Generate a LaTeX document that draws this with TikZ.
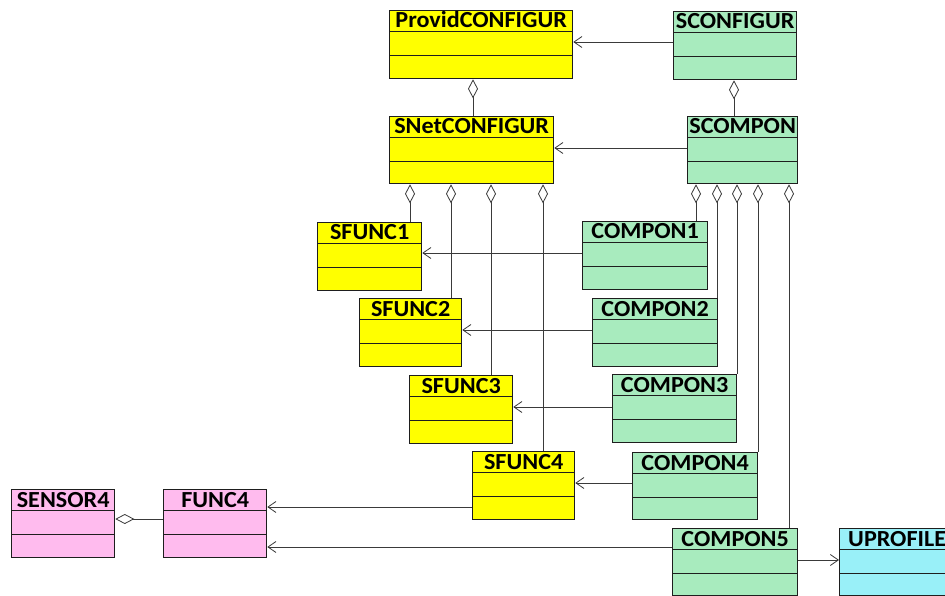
\documentclass[tikz,border=0pt]{standalone}
\usepackage{fontspec}
\setmainfont{Carlito}
\newfontfamily\classfont[FakeStretch=1.05]{Carlito}
\usetikzlibrary{arrows.meta}

\definecolor{clsyellow}{HTML}{FFFF00}
\definecolor{clsgreen}{HTML}{A8EBBE}
\definecolor{clspink}{HTML}{FFBBEE}
\definecolor{clscyan}{HTML}{99F0F8}
\definecolor{edge}{HTML}{1E1E1E}
\definecolor{wire}{HTML}{3A3A3A}

\tikzset{
  classbox/.style={draw=edge, line width=1.3pt, rectangle, inner sep=0pt, anchor=north west},
  classline/.style={draw=edge, line width=0.9pt},
  classname/.style={anchor=base, inner sep=0pt, font=\classfont\bfseries\fontsize{23}{23}\selectfont},
  dep/.style={draw=wire, line width=0.8pt, -{Straight Barb[length=8pt,width=11pt]}},
  agg/.style={draw=wire, line width=0.8pt, {Diamond[fill=white,length=19pt,width=10pt]}-}
}

% \umlclass[label xshift]{name}{x}{y}{width}{height}{fill}{label}
\newcommand{\umlclass}[8][0]{%
  \node[classbox, fill=#7, minimum width=#5pt, minimum height=#6pt] (#2) at (#3,#4) {};
  \draw[classline] ([yshift=-21pt]#2.north west) -- ([yshift=-21pt]#2.north east);
  \draw[classline] ([yshift=-45pt]#2.north west) -- ([yshift=-45pt]#2.north east);
  \node[classname] (#2-name) at ([xshift=#1pt,yshift=-18pt]#2.north) {#8};
}

\begin{document}
\begin{tikzpicture}[x=1pt,y=-1pt]
  \fill[white] (0,0) rectangle (945,596);
  \useasboundingbox (0,0) rectangle (945,596);
  \clip (0,0) rectangle (945,596);

  % configuration level
  \umlclass{provid}{389}{10}{183}{68}{clsyellow}{ProvidCONFIGUR}
  \umlclass{sconfig}{673}{11}{123}{68}{clsgreen}{SCONFIGUR}
  \umlclass{snet}{389}{116}{164}{67}{clsyellow}{SNetCONFIGUR}
  \umlclass{scompon}{687}{116}{110}{67}{clsgreen}{SCOMPON}

  % functions and components
  \umlclass{sfunc1}{317}{222}{104}{68}{clsyellow}{SFUNC1}
  \umlclass{compon1}{582}{221}{125}{68}{clsgreen}{COMPON1}
  \umlclass{sfunc2}{359}{298}{102}{68}{clsyellow}{SFUNC2}
  \umlclass{compon2}{592}{298}{125}{68}{clsgreen}{COMPON2}
  \umlclass{sfunc3}{409}{375}{103}{68}{clsyellow}{SFUNC3}
  \umlclass{compon3}{612}{374}{124}{68}{clsgreen}{COMPON3}
  \umlclass{sfunc4}{472}{451}{102}{68}{clsyellow}{SFUNC4}
  \umlclass{compon4}{632}{452}{125}{67}{clsgreen}{COMPON4}
  \umlclass{compon5}{672}{528}{125}{67}{clsgreen}{COMPON5}
  \umlclass[-5]{uprofile}{839}{528}{125}{67}{clscyan}{UPROFILE}

  % sensor side
  \umlclass{sensor4}{11}{489}{103}{68}{clspink}{SENSOR4}
  \umlclass{func4}{163}{489}{103}{68}{clspink}{FUNC4}

  % attachment points of the connectors
  \coordinate (c-sconfig) at ([yshift=-31pt]sconfig.north west);
  \coordinate (c-scompon) at ([yshift=-32pt]scompon.north west);
  \coordinate (g-provid) at ([xshift=84pt]provid.south west);
  \coordinate (g-sconfig) at ([xshift=61pt]sconfig.south west);
  \coordinate (g-snet1) at ([xshift=21pt]snet.south west);
  \coordinate (g-snet2) at ([xshift=62pt]snet.south west);
  \coordinate (g-snet3) at ([xshift=102pt]snet.south west);
  \coordinate (g-snet4) at ([xshift=154pt]snet.south west);
  \coordinate (g-scompon1) at ([xshift=9pt]scompon.south west);
  \coordinate (g-scompon2) at ([xshift=30pt]scompon.south west);
  \coordinate (g-scompon3) at ([xshift=50pt]scompon.south west);
  \coordinate (g-scompon4) at ([xshift=71pt]scompon.south west);
  \coordinate (g-scompon5) at ([xshift=102pt]scompon.south west);
  \coordinate (c-compon1) at ([yshift=-32pt]compon1.north west);
  \coordinate (c-compon2) at ([yshift=-32pt]compon2.north west);
  \coordinate (c-compon3) at ([yshift=-33pt]compon3.north west);
  \coordinate (c-compon4) at ([yshift=-31pt]compon4.north west);
  \coordinate (c-sfunc4) at ([yshift=-56pt]sfunc4.north west);
  \coordinate (c-compon5a) at ([yshift=-19pt]compon5.north west);
  \coordinate (c-compon5b) at ([yshift=-32pt]compon5.north east);
  \coordinate (g-sensor4) at ([yshift=-30pt]sensor4.north east);

  % dependencies
  \draw[dep] (c-sconfig) -- (c-sconfig -| provid.east);
  \draw[dep] (c-scompon) -- (c-scompon -| snet.east);
  \draw[dep] (c-compon1) -- (c-compon1 -| sfunc1.east);
  \draw[dep] (c-compon2) -- (c-compon2 -| sfunc2.east);
  \draw[dep] (c-compon3) -- (c-compon3 -| sfunc3.east);
  \draw[dep] (c-compon4) -- (c-compon4 -| sfunc4.east);
  \draw[dep] (c-sfunc4) -- (c-sfunc4 -| func4.east);
  \draw[dep] (c-compon5a) -- (c-compon5a -| func4.east);
  \draw[dep] (c-compon5b) -- (c-compon5b -| uprofile.west);

  % aggregations
  \draw[agg] (g-provid) -- (g-provid |- snet.north);
  \draw[agg] (g-sconfig) -- (g-sconfig |- scompon.north);
  \draw[agg] (g-snet1) -- (g-snet1 |- sfunc1.north);
  \draw[agg] (g-snet2) -- (g-snet2 |- sfunc2.north);
  \draw[agg] (g-snet3) -- (g-snet3 |- sfunc3.north);
  \draw[agg] (g-snet4) -- (g-snet4 |- sfunc4.north);
  \draw[agg] (g-scompon1) -- (g-scompon1 |- compon1.north);
  \draw[agg] (g-scompon2) -- (g-scompon2 |- compon2.north);
  \draw[agg] (g-scompon3) -- (g-scompon3 |- compon3.north);
  \draw[agg] (g-scompon4) -- (g-scompon4 |- compon4.north);
  \draw[agg] (g-scompon5) -- (g-scompon5 |- compon5.north);
  \draw[agg] (g-sensor4) -- (g-sensor4 -| func4.west);
\end{tikzpicture}
\end{document}
